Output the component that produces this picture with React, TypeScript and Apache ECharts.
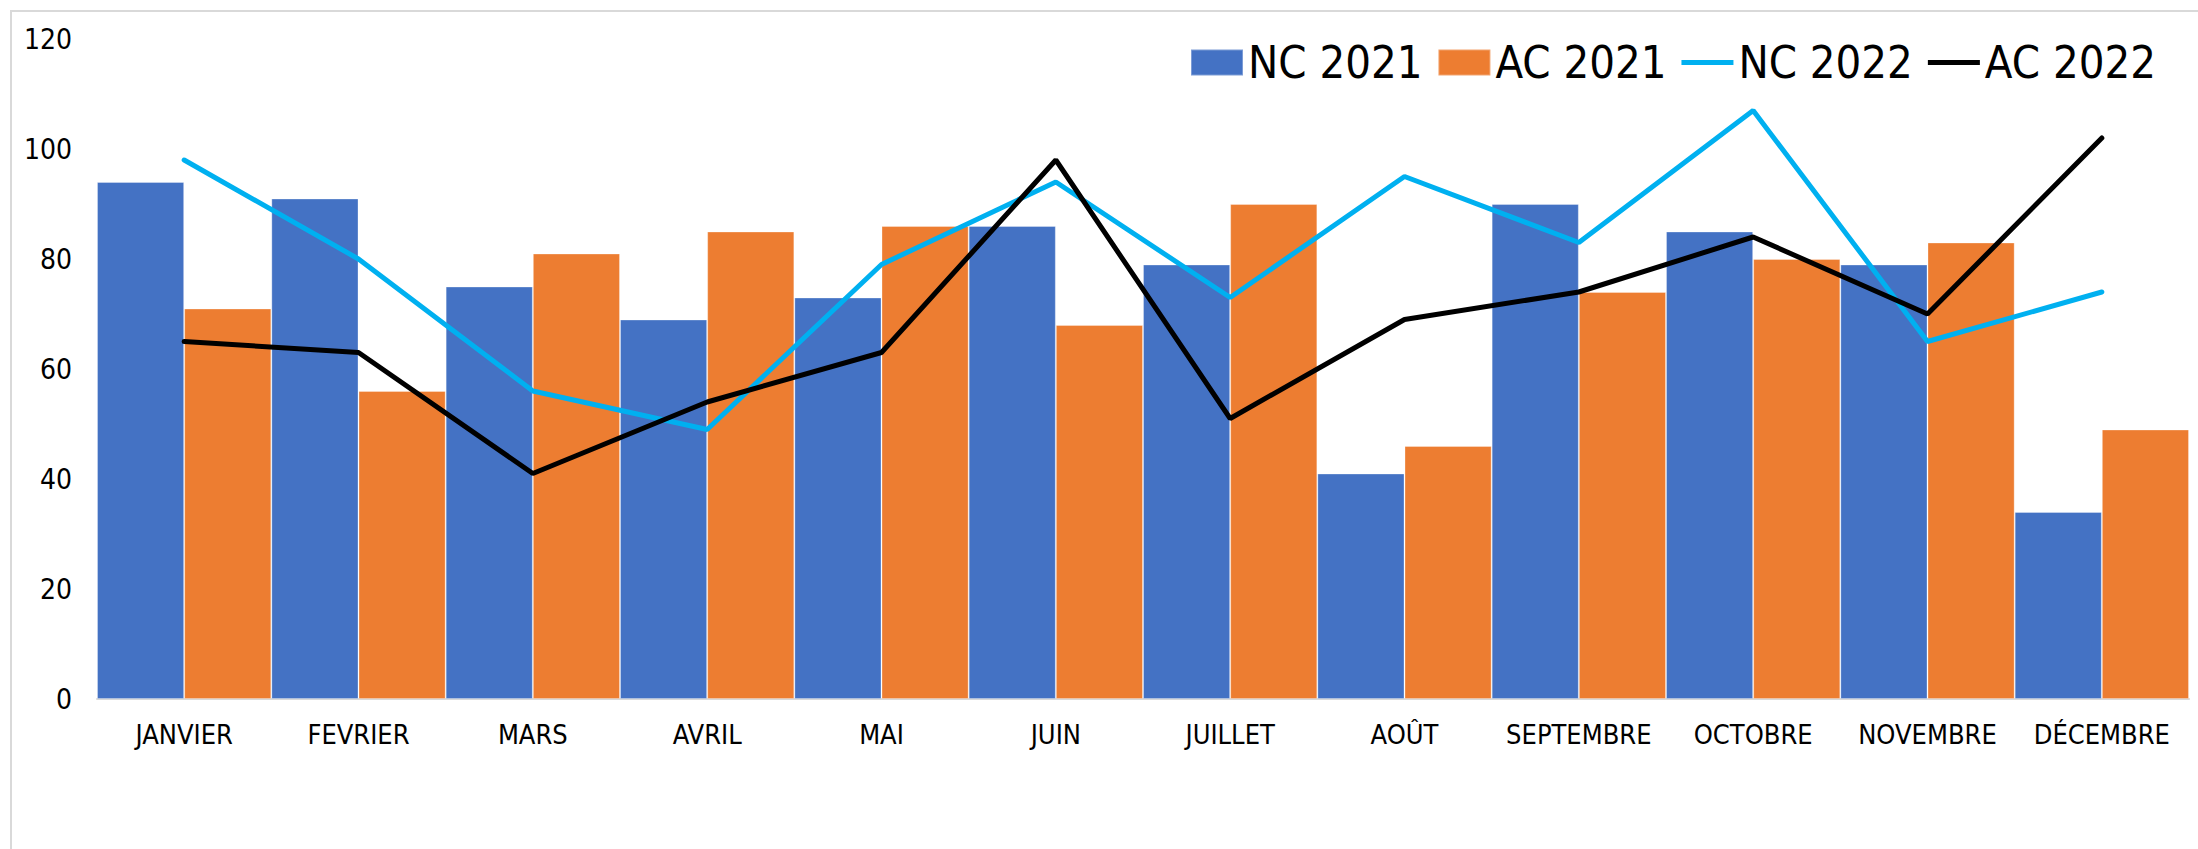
import React, { useEffect, useRef } from "react";
import * as echarts from "echarts";

const months = ["JANVIER", "FEVRIER", "MARS", "AVRIL", "MAI", "JUIN", "JUILLET", "AOÛT", "SEPTEMBRE", "OCTOBRE", "NOVEMBRE", "DÉCEMBRE"];
const nc2021 = [94, 91, 75, 69, 73, 86, 79, 41, 90, 85, 79, 34];
const ac2021 = [71, 56, 81, 85, 86, 68, 90, 46, 74, 80, 83, 49];
const nc2022 = [98, 80, 56, 49, 79, 94, 73, 95, 83, 107, 65, 74];
const ac2022 = [65, 63, 41, 54, 63, 98, 51, 69, 74, 84, 70, 102];
const yTicks = { min: 0, max: 120, interval: 20 };

const FONT = "'DejaVu Sans Condensed', 'DejaVu Sans', sans-serif";
const LINE_ICON = "path://M0,0 L0.01,0 L0,0.01 Z M0,10.5 L52,10.5 L52,15.5 L0,15.5 Z M52,26 L51.99,26 L52,25.99 Z";

export default function App() {
  const ref = useRef<HTMLDivElement>(null);
  useEffect(() => {
    document.body.style.margin = "0";
    const chart = echarts.init(ref.current!, null, { renderer: "svg" });
    chart.setOption({
      animation: false,
      backgroundColor: "#ffffff",
      textStyle: { fontFamily: FONT },
      graphic: [
        {
          type: "rect",
          shape: { x: 11, y: 11, width: 2300, height: 1000 },
          style: { fill: "none", stroke: "#d9d9d9", lineWidth: 2 },
          silent: true,
          z: -1,
        },
      ],
      legend: {
        left: 1185,
        top: 35,
        itemWidth: 52,
        itemHeight: 26,
        itemGap: 15,
        textStyle: { fontSize: 45, color: "#000", fontFamily: FONT },
        data: [
          { name: "NC 2021", icon: "rect" },
          { name: "AC 2021", icon: "rect" },
          { name: "NC 2022", icon: LINE_ICON, itemStyle: { color: "#00B0F0" } },
          { name: "AC 2022", icon: LINE_ICON, itemStyle: { color: "#000000" } },
        ],
      },
      grid: { left: 97, right: 9, top: 39, bottom: 150, containLabel: false },
      xAxis: {
        type: "category",
        data: months,
        axisLine: { lineStyle: { color: "#d9d9d9", width: 2 } },
        axisTick: { show: false },
        axisLabel: { color: "#000", fontSize: 27, margin: 22, fontFamily: FONT, interval: 0 },
      },
      yAxis: {
        type: "value",
        min: yTicks.min,
        max: yTicks.max,
        interval: yTicks.interval,
        splitLine: { show: false },
        axisLine: { show: false },
        axisTick: { show: false },
        axisLabel: { color: "#000", fontSize: 28, margin: 25, fontFamily: FONT },
      },
      series: [
        {
          name: "NC 2021",
          type: "bar",
          data: nc2021,
          barGap: "0%",
          barCategoryGap: "0%",
          itemStyle: { color: "#4472C4", borderColor: "rgba(255,255,255,0.3)", borderWidth: 1 },
        },
        {
          name: "AC 2021",
          type: "bar",
          data: ac2021,
          barGap: "0%",
          barCategoryGap: "0%",
          itemStyle: { color: "#ED7D31", borderColor: "rgba(255,255,255,0.3)", borderWidth: 1 },
        },
        {
          name: "NC 2022",
          type: "line",
          data: nc2022,
          symbol: "none",
          itemStyle: { color: "#00B0F0" },
          lineStyle: { color: "#00B0F0", width: 5, cap: "round" },
          z: 3,
        },
        {
          name: "AC 2022",
          type: "line",
          data: ac2022,
          symbol: "none",
          itemStyle: { color: "#000000" },
          lineStyle: { color: "#000000", width: 5, cap: "round" },
          z: 4,
        },
      ],
    });
    return () => chart.dispose();
  }, []);
  return <div ref={ref} style={{ width: 2198, height: 849 }} />;
}
